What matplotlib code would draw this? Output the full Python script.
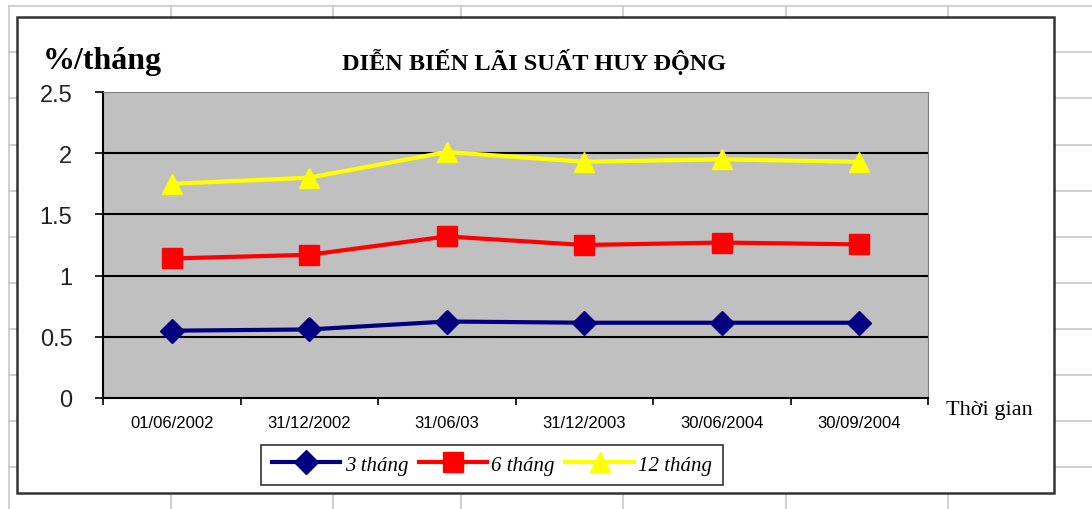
import matplotlib
matplotlib.use("Agg")
import matplotlib.pyplot as plt
from matplotlib.lines import Line2D
from matplotlib.patches import Rectangle

categories = ["01/06/2002", "31/12/2002", "31/06/03", "31/12/2003", "30/06/2004", "30/09/2004"]
s3 = [0.55, 0.56, 0.625, 0.615, 0.615, 0.615]
s6 = [1.14, 1.17, 1.32, 1.25, 1.27, 1.255]
s12 = [1.75, 1.80, 2.01, 1.93, 1.95, 1.93]
series_names = ["3 tháng", "6 tháng", "12 tháng"]
yticks = [0, 0.5, 1, 1.5, 2, 2.5]
ytick_labels = ["0", "0.5", "1", "1.5", "2", "2.5"]

W, H = 1092, 510
fig = plt.figure(figsize=(W / 100, H / 100), dpi=100)
fig.patch.set_facecolor("white")

# spreadsheet grid background
grid_x = [9, 171, 333, 461, 623, 786, 948]
grid_y = [7, 53, 99, 146, 192, 238, 284, 330, 376, 422, 468]
for gx in grid_x:
    fig.add_artist(Line2D([gx / W, gx / W], [0, 1 - 7 / H], color="#c8c8c8", lw=1.2, zorder=0))
for gy in grid_y:
    fig.add_artist(Line2D([9 / W, 1], [1 - gy / H, 1 - gy / H], color="#c8c8c8", lw=1.2, zorder=0))

# chart box
fig.add_artist(Rectangle((17 / W, 1 - 494 / H), (1054 - 17) / W, (494 - 18) / H,
                         transform=fig.transFigure, facecolor="white", edgecolor="#333333",
                         lw=1.8, zorder=1))

ax = fig.add_axes([103 / W, 1 - 399 / H, (928 - 103) / W, (399 - 93) / H], zorder=2)
ax.set_facecolor("#c0c0c0")
x = list(range(len(categories)))
ax.plot(x, s3, color="#000080", lw=3, marker="D", markersize=12, label=series_names[0], zorder=3)
ax.plot(x, s6, color="#ff0000", lw=3, marker="s", markersize=14, label=series_names[1], zorder=3)
ax.plot(x, s12, color="#ffff00", lw=3, marker="^", markersize=15, label=series_names[2], zorder=3)

ax.set_xlim(-0.5, len(categories) - 0.5)
ax.set_ylim(0, 2.5)
ax.set_yticks(yticks)
ax.set_yticklabels(ytick_labels, fontsize=17, family="Liberation Sans", color="#222222")
ax.set_xticks(x)
ax.set_xticklabels(categories, fontsize=12, family="Liberation Sans")
ax.set_xticks([i - 0.5 for i in range(len(categories) + 1)], minor=True)
ax.tick_params(axis="x", which="major", length=0, pad=12)
ax.tick_params(axis="x", which="minor", length=5, width=1.2, direction="out")
ax.tick_params(axis="y", length=6, width=1.2, direction="out", pad=16)
for yv in yticks[1:-1]:
    ax.axhline(yv, color="black", lw=1.5, zorder=1)
ax.spines["left"].set_color("black")
ax.spines["left"].set_linewidth(1.5)
ax.spines["bottom"].set_color("black")
ax.spines["bottom"].set_linewidth(1.5)
ax.spines["top"].set_color("#808080")
ax.spines["right"].set_color("#808080")

fig.text(43 / W, 1 - 62 / H, "%/tháng", fontsize=23, fontweight="bold",
         family="Liberation Serif", ha="left", va="center", zorder=3)
fig.text(534 / W, 1 - 62 / H, "DIỄN BIẾN LÃI SUẤT HUY ĐỘNG", fontsize=17.5, fontweight="bold",
         family="Liberation Serif", ha="center", va="center", zorder=3)
fig.text(946 / W, 1 - 410 / H, "Thời gian", fontsize=16, family="Liberation Serif",
         ha="left", va="center", zorder=3)

leg = fig.legend(loc="center", bbox_to_anchor=(492 / W, 1 - 466 / H), ncol=3,
                 prop={"family": "Liberation Serif", "size": 15, "style": "italic"},
                 frameon=True, fancybox=False, edgecolor="black", handlelength=3.3,
                 handletextpad=0.2, columnspacing=0.5, borderpad=0.5)
leg.get_frame().set_linewidth(1.2)
leg.set_zorder(4)

fig.savefig("out.png", dpi=100)
